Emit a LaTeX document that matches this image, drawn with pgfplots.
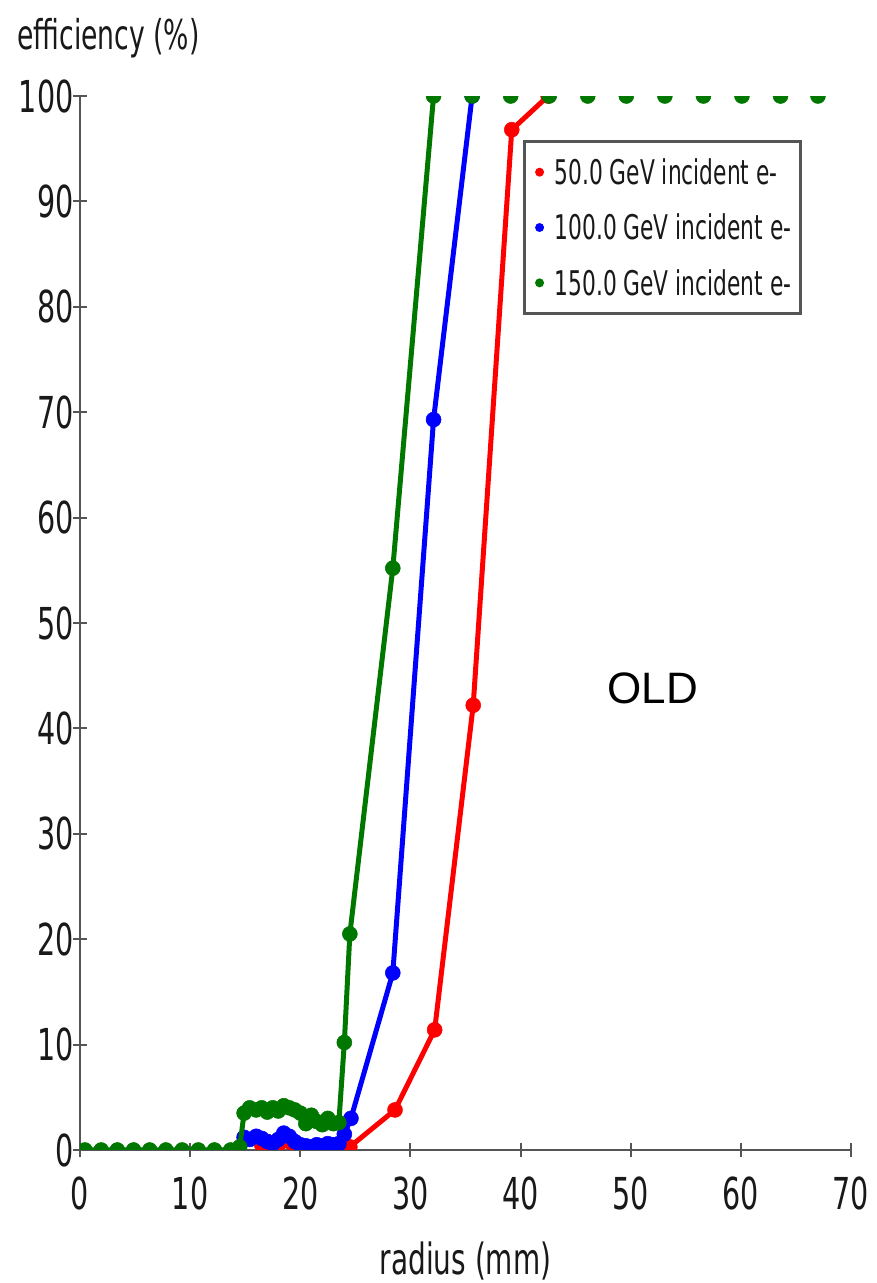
\documentclass[border=0pt]{standalone}
\usepackage{pgfplots}
\pgfplotsset{compat=1.18}
\usepackage{fontspec}
\setmainfont[FakeStretch=0.65]{DejaVu Sans}
\newfontfamily\legfont[FakeStretch=0.64]{DejaVu Sans}
\newfontfamily\oldfont{Liberation Sans}
\definecolor{cgreen}{RGB}{0,120,0}
\definecolor{axgray}{RGB}{85,85,85}
\begin{document}
\begin{tikzpicture}
\path[use as bounding box] (0,0) rectangle (876pt,1283pt);
\begin{axis}[
 at={(80pt,133pt)}, anchor=south west,
 scale only axis, width=771pt, height=1054pt,
 xmin=0, xmax=70, ymin=0, ymax=100,
 clip marker paths=true,
 axis lines=left, axis line style={-, axgray, line width=2.5pt},
 xtick={0,10,...,70}, ytick={0,10,...,100},
 tick align=center, major tick length=14pt,
 tick style={axgray, line width=2pt},
 ticklabel style={font=\fontsize{44}{44}\selectfont, text=black!90},
 /pgf/number format/assume math mode=true,
 yticklabel style={xshift=4pt},
 xticklabel style={yshift=-16pt},
 legend style={at={(axis description cs:0.575,0.958)}, anchor=north west,
   draw=axgray, line width=2.5pt, font=\legfont\fontsize{34}{40}\selectfont,
   inner xsep=6pt, inner ysep=14pt, row sep=22pt,
   nodes={inner sep=3pt, text=black!90}},
 legend cell align=left,
 legend image code/.code={\path[draw=none, fill=none] (0pt,0pt) -- (21pt,0pt); \fill[#1, draw=none] (9pt,0pt) circle (4.5pt);},
]
\addlegendimage{red}
\addlegendentry{50.0 GeV incident e-}
\addlegendimage{blue}
\addlegendentry{100.0 GeV incident e-}
\addlegendimage{cgreen}
\addlegendentry{150.0 GeV incident e-}

% 50 GeV
\addplot[red, line width=5pt, mark=*, mark size=7.5pt, mark options={line width=0.5pt}, forget plot] coordinates {
(16.5,0.5)(17,0.8)(17.5,0.6)(18,0.5)(18.5,1.2)(19,0.8)(19.5,0.3)(20,0.2)(21,0.2)(22,0.2)(23,0.2)(24,0.2)
(24.5,0.3)(28.6,3.8)(32.2,11.4)(35.7,42.2)(39.2,96.8)(42.5,100)};
% 100 GeV
\addplot[blue, line width=5pt, mark=*, mark size=7.5pt, mark options={line width=0.5pt}, forget plot] coordinates {
(14.9,1.2)(15.4,1.0)(16,1.3)(16.5,1.1)(17,0.8)(17.5,0.6)(18,1.0)(18.5,1.6)(19,1.3)(19.5,0.8)
(20,0.5)(20.5,0.4)(21,0.3)(21.5,0.5)(22,0.4)(22.5,0.6)(23,0.5)(23.5,0.6)(24,1.5)
(24.6,3.0)(28.4,16.8)(32.1,69.3)(35.6,100)};
% 150 GeV
\addplot[cgreen, line width=5pt, mark=*, mark size=7.5pt, mark options={line width=0.5pt}, forget plot] coordinates {
(0.45,0)(1.92,0)(3.39,0)(4.86,0)(6.33,0)(7.8,0)(9.27,0)(10.74,0)(12.21,0)(13.68,0)(14.5,0.3)
(14.9,3.5)(15.4,4.0)(16,3.8)(16.5,4.0)(17,3.6)(17.5,4.0)(18,3.7)(18.5,4.2)(19,4.0)(19.5,3.8)
(20,3.5)(20.5,2.5)(21,3.3)(21.5,2.7)(22,2.4)(22.5,3.0)(23,2.5)(23.5,2.6)
(24,10.2)(24.5,20.5)(28.4,55.2)(32.1,100)};
\addplot[cgreen, only marks, mark=*, mark size=7.5pt, mark options={line width=0.5pt}, forget plot] coordinates {
(35.6,100)(39.1,100)(42.6,100)(46.1,100)(49.6,100)(53.1,100)(56.6,100)(60.1,100)(63.6,100)(67.0,100)};

\node[font=\oldfont\fontsize{44}{44}\selectfont] at (axis cs:52,43.8) {OLD};
\end{axis}
\node[anchor=base west, inner sep=0pt, font=\fontsize{41}{41}\selectfont, text=black!90] at (17pt,1233pt) {efficiency (\%)};
\node[anchor=base, inner sep=0pt, font=\fontsize{43}{43}\selectfont, text=black!90] at (465.5pt,9pt) {radius (mm)};
\end{tikzpicture}
\end{document}
